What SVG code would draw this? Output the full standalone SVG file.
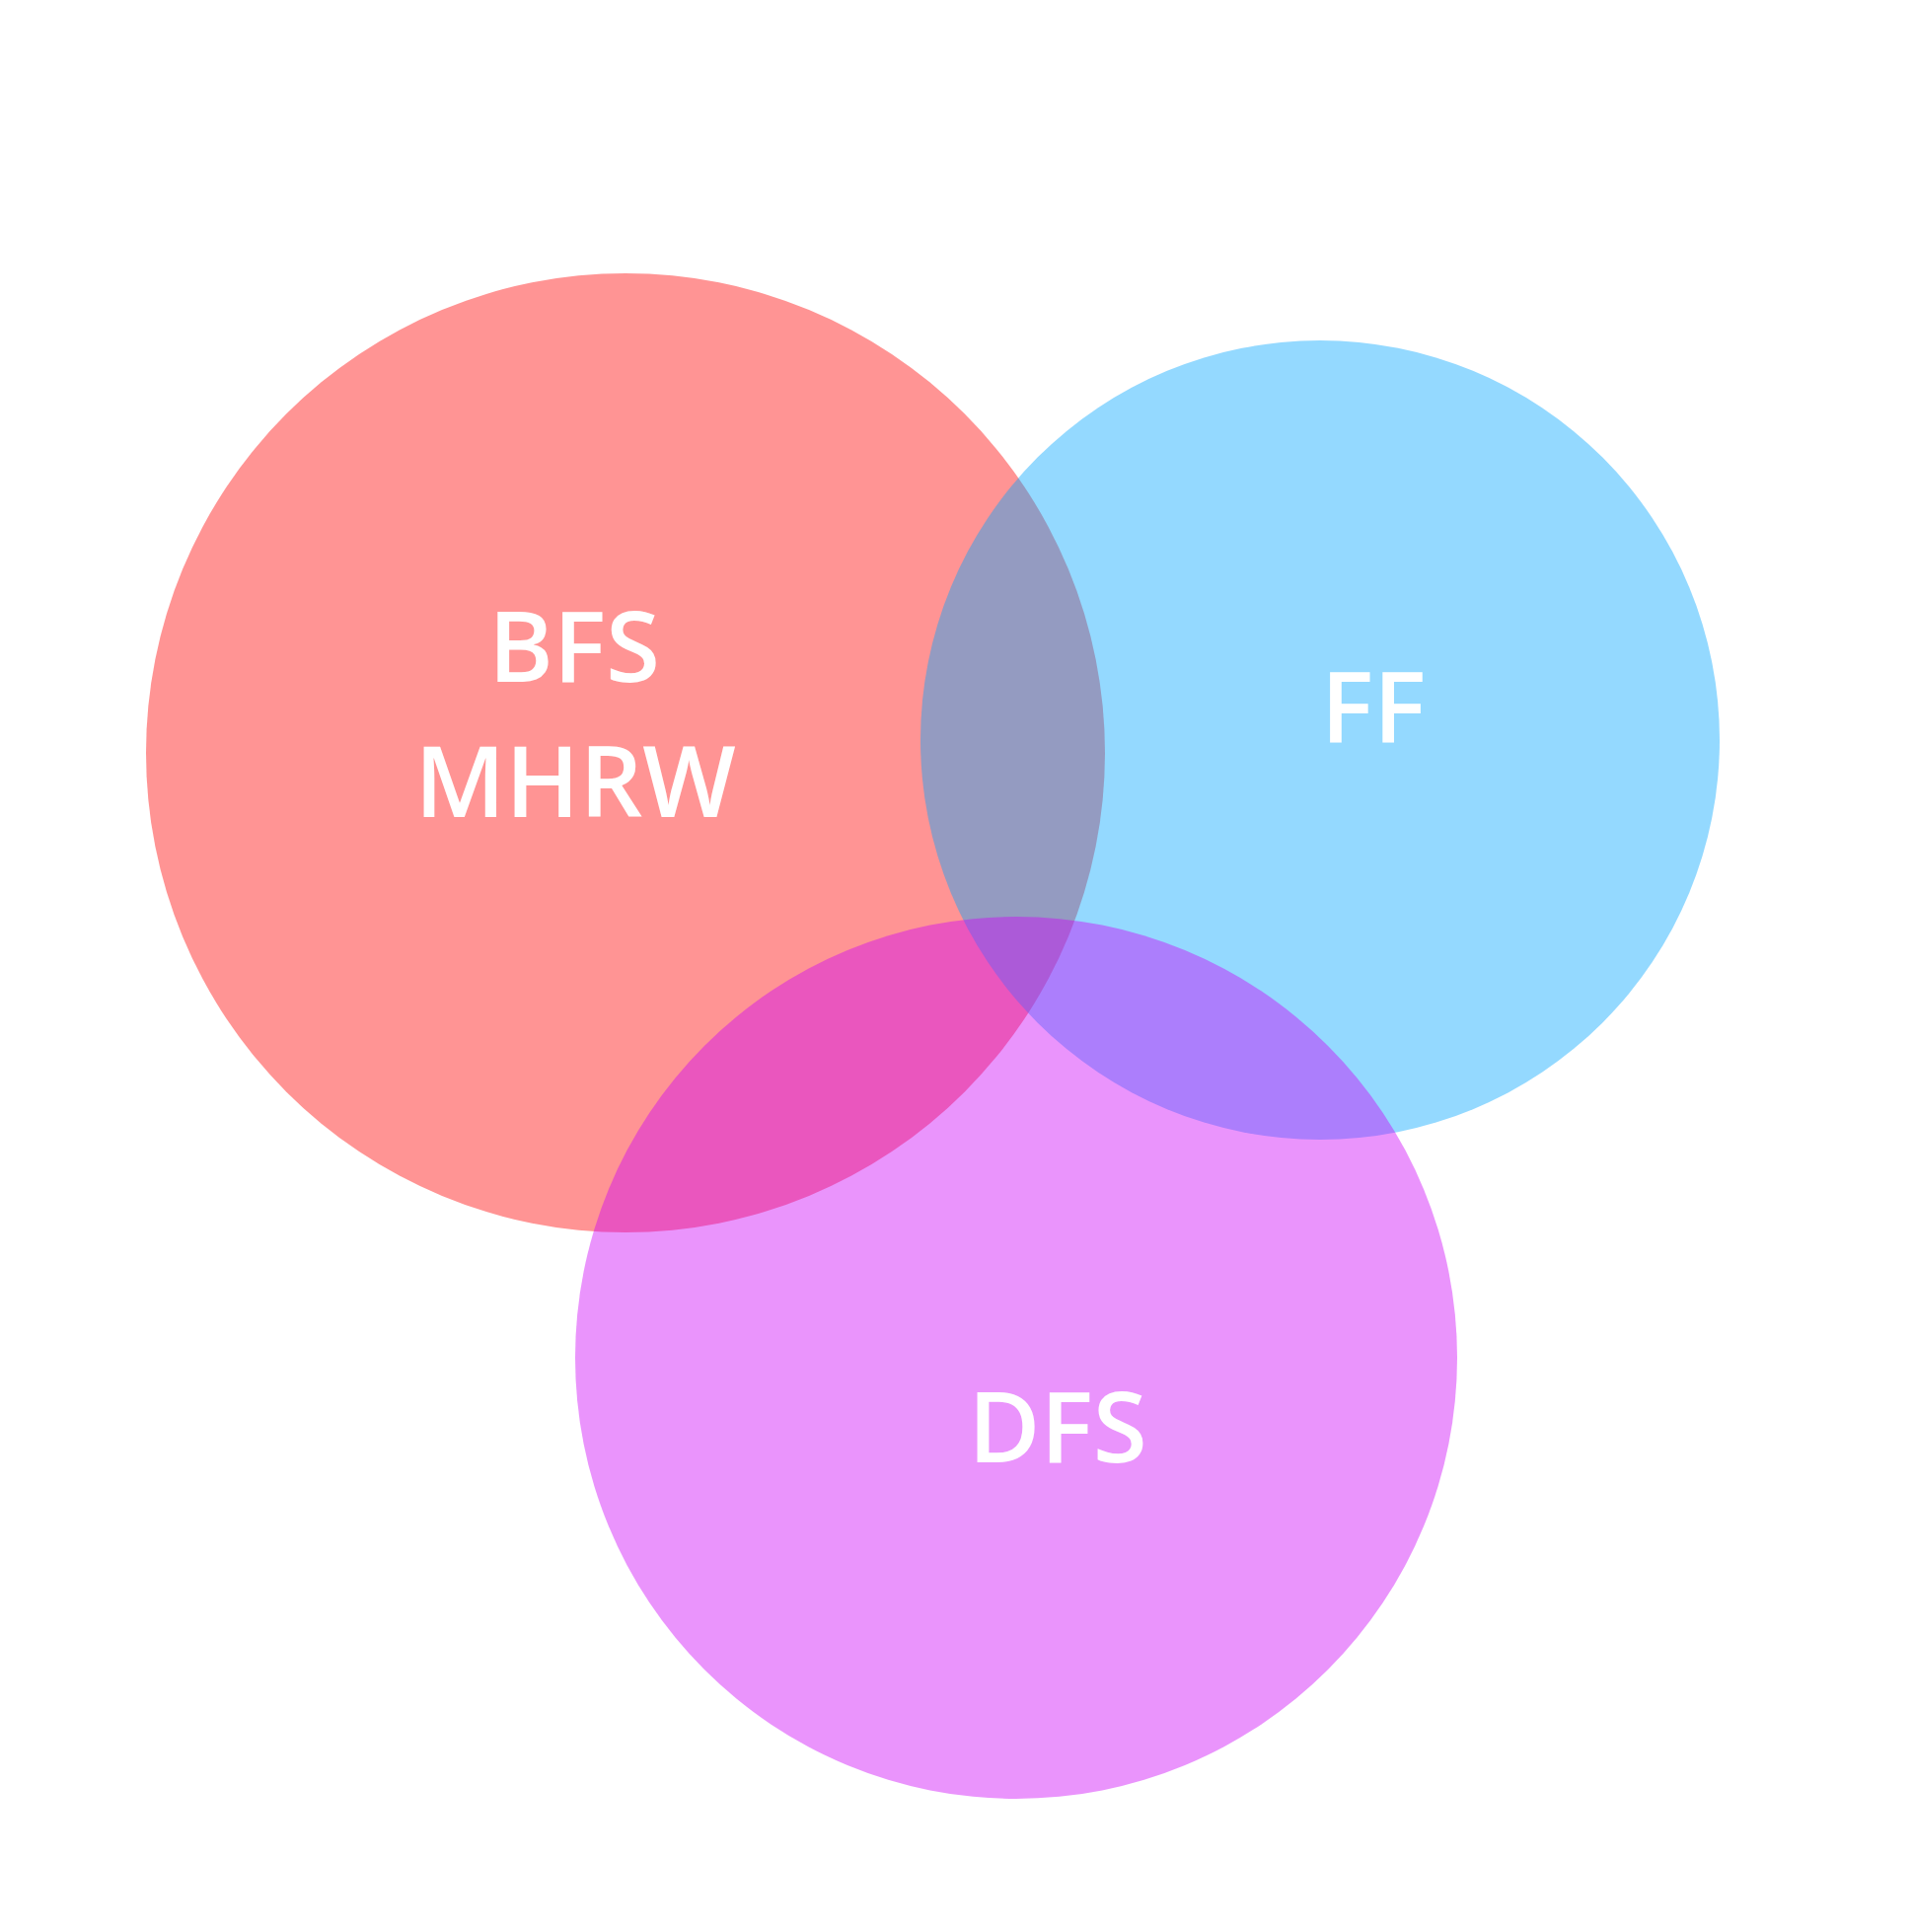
<svg xmlns="http://www.w3.org/2000/svg" width="1938" height="1958" viewBox="0 0 1938 1958">
<style>
.c{fill-opacity:0.42}
.t{font-family:"Open Sans","Liberation Sans",sans-serif;font-weight:600;font-size:100px;fill:#ffffff;text-anchor:middle}
</style>
<rect width="1938" height="1958" fill="#ffffff"/>
<g id="bfs-set"><circle class="c" cx="634" cy="763" r="486" fill="#ff0000"/></g>
<g id="ff-set"><circle class="c" cx="1338" cy="750" r="405" fill="#00a4ff"/></g>
<g id="dfs-set"><circle class="c" cx="1030" cy="1376" r="447" fill="#cd00f8"/></g>
<g id="labels">
<text class="t" x="582" y="691">BFS</text>
<text class="t" x="583" y="828">MHRW</text>
<text class="t" x="1392" y="752">FF</text>
<text class="t" x="1072" y="1482">DFS</text>
</g>
</svg>
